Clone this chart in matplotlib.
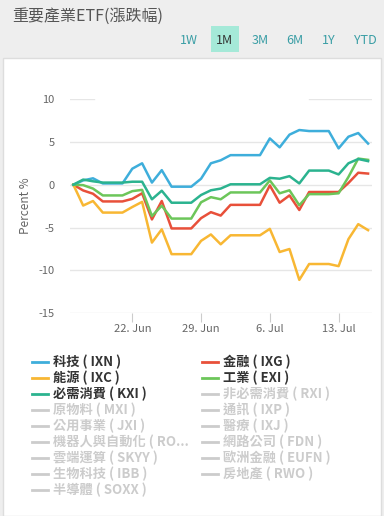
import numpy as np
import matplotlib
matplotlib.use('Agg')
import matplotlib.pyplot as plt
from matplotlib.lines import Line2D
from matplotlib.patches import Rectangle

plt.rcParams['font.family'] = ['Noto Sans CJK TC', 'DejaVu Sans']

W, H = 384, 516

# daily points 16 Jun .. 16 Jul
dates = np.arange('2020-06-16', '2020-07-17', dtype='datetime64[D]')
tech = [0, 0.5, 0.75, 0.15, 0.15, 0.15, 1.87, 2.5, 0.25, 1.7, -0.23, -0.23, -0.23, 0.7, 2.5, 2.85,
        3.45, 3.45, 3.45, 3.45, 5.4, 4.36, 5.84, 6.38, 6.26, 6.26, 6.26, 4.24, 5.6, 6.03, 4.8]
fin = [0, -0.67, -1.05, -1.95, -1.95, -1.95, -1.65, -1.0, -4.05, -1.9, -5.1, -5.1, -5.1, -3.9, -3.2, -3.6,
       -2.35, -2.35, -2.35, -2.35, -0.08, -2.1, -1.25, -2.95, -0.85, -0.85, -0.85, -0.85, 0.2, 1.4, 1.3]
energy = [0, -2.43, -1.9, -3.25, -3.25, -3.25, -2.6, -2.0, -6.75, -5.2, -8.1, -8.1, -8.1, -6.55, -5.8, -6.95,
          -5.9, -5.9, -5.9, -5.9, -5.15, -7.85, -7.5, -11.1, -9.25, -9.25, -9.25, -9.5, -6.35, -4.6, -5.3]
indus = [0, -0.05, -0.45, -1.25, -1.25, -1.25, -0.75, -0.6, -3.65, -2.45, -3.95, -3.95, -3.95, -2.05, -1.45, -1.7,
         -0.9, -0.9, -0.9, -0.9, 0.5, -1.0, -0.65, -2.4, -1.1, -1.1, -1.1, -1.0, 0.9, 3.05, 2.9]
staples = [0, 0.6, 0.4, 0.25, 0.25, 0.25, 0.35, 0.35, -1.7, -0.7, -2.1, -2.1, -2.1, -1.2, -0.65, -0.45,
           0.05, 0.05, 0.05, 0.05, 0.8, 0.7, 1.0, 0.15, 1.65, 1.65, 1.65, 1.2, 2.5, 3.0, 2.75]

series = [('科技 ( IXN )', tech, '#3eaedb'),
          ('金融 ( IXG )', fin, '#e8503a'),
          ('能源 ( IXC )', energy, '#f8b733'),
          ('工業 ( EXI )', indus, '#6cc65a'),
          ('必需消費 ( KXI )', staples, '#2bb38f')]
hidden = ['非必需消費 ( RXI )', '原物料 ( MXI )', '通訊 ( IXP )', '公用事業 ( JXI )', '醫療 ( IXJ )',
          '機器人與自動化 ( RO...', '網路公司 ( FDN )', '雲端運算 ( SKYY )', '歐洲金融 ( EUFN )',
          '生物科技 ( IBB )', '房地產 ( RWO )', '半導體 ( SOXX )']

tick_dates = np.array(['2020-06-22', '2020-06-29', '2020-07-06', '2020-07-13'], dtype='datetime64[D]')
tick_labels = ['22. Jun', '29. Jun', '6. Jul', '13. Jul']
yticks = [10, 5, 0, -5, -10, -15]
buttons = ['1W', '1M', '3M', '6M', '1Y', 'YTD']
button_x = [189, 224, 260, 295, 329, 365]

fig = plt.figure(figsize=(W / 100, H / 100), dpi=100, facecolor='#eeeeee')

def fx(px):
    return px / W

def fy(py):
    return 1 - py / H

# white panel behind everything
fig.patches.append(Rectangle((fx(3), 0), fx(378), fy(58), transform=fig.transFigure,
                             facecolor='white', edgecolor='#dddddd', lw=1, zorder=-10))

fig.text(fx(12), fy(16), '重要產業ETF(漲跌幅)', fontsize=11.5, color='#555555', va='center', ha='left')
for b, bx in zip(buttons, button_x):
    if b == '1M':
        fig.patches.append(Rectangle((fx(211), fy(52)), fx(28), 26 / H, transform=fig.transFigure,
                                     facecolor='#a5e9d8', edgecolor='none', zorder=-5))
        fig.text(fx(bx), fy(40), b, fontsize=9, color='#333333', ha='center', va='center')
    else:
        fig.text(fx(bx), fy(40), b, fontsize=9, color='#3a9ea5', ha='center', va='center')

x = np.arange(len(dates))
ax = fig.add_axes([fx(70), 1 - 313.3 / H, fx(302), (313.3 - 99) / H])
ax.set_zorder(1)
ax.patch.set_visible(False)
for name, vals, col in series:
    ax.plot(x, vals, color=col, lw=1.8, solid_joinstyle='round')

ax.set_ylim(-15, 10)
ax.set_xlim(-0.34, 30.4)
ax.set_yticks(yticks)
ax.set_yticklabels([str(v) for v in yticks])
for v in yticks[1:]:
    ax.axhline(v, color='#e6e6e6', lw=1, zorder=0)
ax.axhline(10, xmin=0, xmax=0.08, color='#e6e6e6', lw=1, zorder=0)
ax.axhline(10, xmin=0.79, xmax=1, color='#e6e6e6', lw=1, zorder=0)
tick_pos = [(d - dates[0]).astype(int) for d in tick_dates]
ax.set_xticks(tick_pos)
ax.set_xticklabels(tick_labels)
for s in ax.spines.values():
    s.set_visible(False)
ax.tick_params(axis='y', length=0, pad=11, labelsize=8, labelcolor='#666666')
ax.tick_params(axis='x', length=6.5, width=0.8, color='#cccccc', pad=1, labelsize=8, labelcolor='#666666')
ax.set_ylabel('Percent %', fontsize=8.5, color='#666666', labelpad=5)

# legend, row by row in two columns
entries = [(n, c, True) for n, v, c in series] + [(n, '#cccccc', False) for n in hidden]
for k, (name, col, active) in enumerate(entries):
    row, colm = divmod(k, 2)
    yy = 362.3 + 16 * row
    x0 = 32 if colm == 0 else 202
    fig.add_artist(Line2D([fx(x0), fx(x0 + 16)], [fy(yy), fy(yy)], transform=fig.transFigure,
                          color=col, lw=2))
    fig.text(fx(x0 + 21), fy(yy), name, fontsize=9.5, fontweight='bold',
             color='#333333' if active else '#cccccc', ha='left', va='center')

fig.savefig('out.png', dpi=100, facecolor=fig.get_facecolor())
